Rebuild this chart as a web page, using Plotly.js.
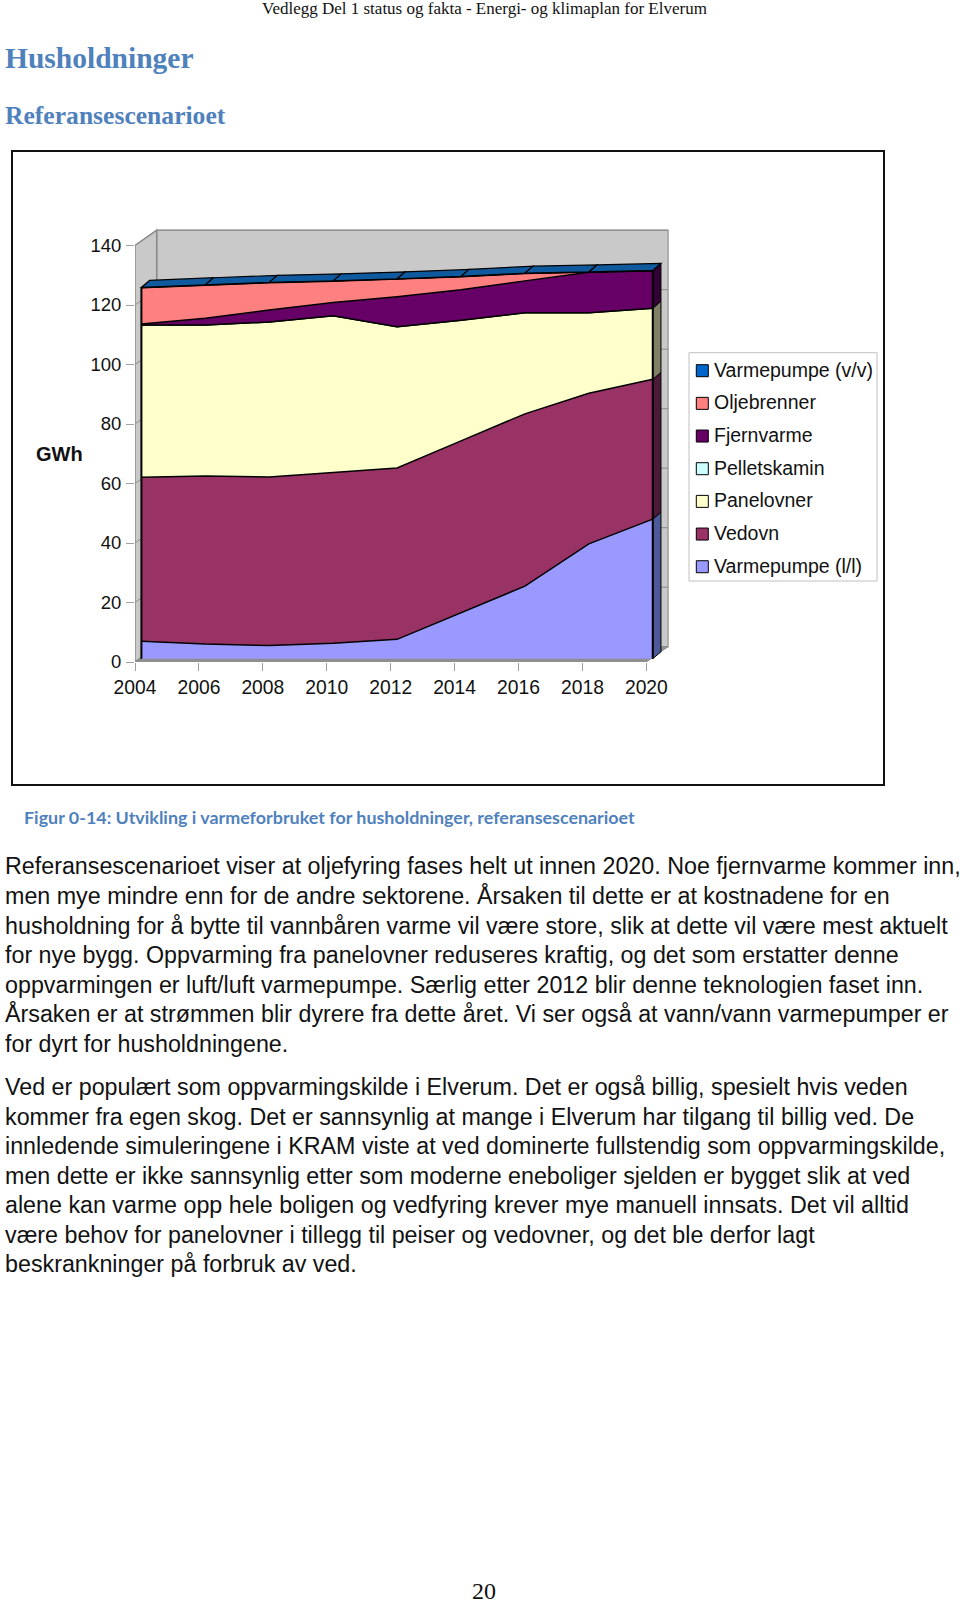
<!DOCTYPE html>
<html>
<head>
<meta charset="utf-8">
<script src="https://cdn.plot.ly/plotly-3.0.1.min.js"></script>
<style>
  body { margin: 0; background: #fff; width: 960px; height: 1602px; position: relative; overflow: hidden; }
  .t { position: absolute; white-space: nowrap; line-height: 1; }
  .body { left: 5px; font: 23.28px "Liberation Sans", sans-serif; color: #111; transform: translateY(-50%); }
  #box { position: absolute; left: 11px; top: 150px; width: 870px; height: 632px; border: 2px solid #111; }
  #chart { position: absolute; left: 0; top: 0; width: 960px; height: 800px; }
</style>
</head>
<body>
<div class="t" id="header" style="left:262px;top:-1px;font:17px 'Liberation Serif',serif;color:#111">Vedlegg Del 1 status og fakta - Energi- og klimaplan for Elverum</div>
<div class="t" style="left:5px;top:42px;font:bold 29.5px 'Liberation Serif',serif;color:#4f81bd">Husholdninger</div>
<div class="t" style="left:5px;top:101px;font:bold 25.6px 'Liberation Serif',serif;color:#4f81bd">Referansescenarioet</div>
<div id="box"></div>
<div id="chart"></div>
<div class="t" style="left:24px;top:806px;font:bold 17.9px Lato,sans-serif;color:#4f81bd">Figur 0-14: Utvikling i varmeforbruket for husholdninger, referansescenarioet</div>
<div id="text"></div>
<div class="t" style="left:472px;top:1578px;font:24px 'Liberation Serif',serif;color:#111">20</div>

<script>
let years = [2004, 2006, 2008, 2010, 2012, 2014, 2016, 2018, 2020];
let yTicks = [0, 20, 40, 60, 80, 100, 120, 140];

// stacked values in GWh
let varmepumpeLL = [5.9, 4.9, 4.4, 5.2, 6.5, 15.5, 24.4, 38.6, 46.9];
let vedovn = [55.1, 56.5, 56.7, 57.5, 57.6, 57.7, 57.9, 50.6, 47.0];
let panelovner = [51.2, 50.8, 52.1, 52.6, 47.5, 40.6, 34.0, 27.1, 23.9];
let pelletskamin = [0, 0, 0, 0, 0, 0, 0, 0, 0];
let fjernvarme = [0.3, 2.2, 4.0, 4.4, 10.1, 10.2, 10.7, 13.6, 12.6];
let oljebrenner = [12.2, 11.2, 9.2, 7.2, 5.9, 4.4, 2.5, 0, 0];
let varmepumpeVV = [0.1, 0.1, 0.1, 0.1, 0.1, 0.1, 0.1, 0.1, 0.1];

let names = ["Varmepumpe (l/l)", "Vedovn", "Panelovner", "Pelletskamin", "Fjernvarme", "Oljebrenner", "Varmepumpe (v/v)"];
let series = [varmepumpeLL, vedovn, panelovner, pelletskamin, fjernvarme, oljebrenner, varmepumpeVV];
let colors = ["#9999ff", "#993366", "#ffffcc", "#ccffff", "#660066", "#ff8080", "#0066cc"];
let sideColors = ["#4d5a99", "#4a1a38", "#808066", "#668080", "#330033", "#804040", "#0f5a9e"];

let textLines = [
  [866, "Referansescenarioet viser at oljefyring fases helt ut innen 2020. Noe fjernvarme kommer inn,"],
  [896, "men mye mindre enn for de andre sektorene. Årsaken til dette er at kostnadene for en"],
  [925.5, "husholdning for å bytte til vannbåren varme vil være store, slik at dette vil være mest aktuelt"],
  [955, "for nye bygg. Oppvarming fra panelovner reduseres kraftig, og det som erstatter denne"],
  [985, "oppvarmingen er luft/luft varmepumpe. Særlig etter 2012 blir denne teknologien faset inn."],
  [1014, "Årsaken er at strømmen blir dyrere fra dette året. Vi ser også at vann/vann varmepumper er"],
  [1044, "for dyrt for husholdningene."],
  [1087, "Ved er populært som oppvarmingskilde i Elverum. Det er også billig, spesielt hvis veden"],
  [1116.5, "kommer fra egen skog. Det er sannsynlig at mange i Elverum har tilgang til billig ved. De"],
  [1146, "innledende simuleringene i KRAM viste at ved dominerte fullstendig som oppvarmingskilde,"],
  [1176, "men dette er ikke sannsynlig etter som moderne eneboliger sjelden er bygget slik at ved"],
  [1205, "alene kan varme opp hele boligen og vedfyring krever mye manuell innsats. Det vil alltid"],
  [1235, "være behov for panelovner i tillegg til peiser og vedovner, og det ble derfor lagt"],
  [1264, "beskrankninger på forbruk av ved."]
];

let textDiv = document.getElementById("text");
textLines.forEach(function (l) {
  let d = document.createElement("div");
  d.className = "t body";
  d.style.top = l[0] + "px";
  d.textContent = l[1];
  textDiv.appendChild(d);
});

// plot area in page pixels
const areaLeft = 135, areaRight = 680, areaTop = 225, areaBottom = 662;
const pxPerYear = 31.96, pxPerGWh = 2.975;
const xMax = 2004 + (areaRight - areaLeft) / pxPerYear;
const yMax = (areaBottom - areaTop) / pxPerGWh;
const px = (p) => (p - areaLeft) / (areaRight - areaLeft);
const py = (p) => (areaBottom - p) / (areaBottom - areaTop);

let shapes = [];

function poly(points, fill, lineColor, lineWidth, xref, yref, layer) {
  let path = points.map((p, i) => (i == 0 ? "M" : "L") + p[0] + "," + p[1]).join(" ") + " Z";
  shapes.push({ type: "path", path: path, fillcolor: fill, line: { color: lineColor, width: lineWidth }, xref: xref, yref: yref, layer: layer });
}

// walls and floor
let wallDx = 21.7 / pxPerYear, wallDy = 15.3 / pxPerGWh;
poly([[2004, 0], [2004 + wallDx, wallDy], [2020 + wallDx, wallDy], [2020, 0]], "#8f8f8f", "#8f8f8f", 1, "x", "y", "below");
poly([[2004 + wallDx, wallDy], [2020 + wallDx, wallDy], [2020 + wallDx, 140 + wallDy], [2004 + wallDx, 140 + wallDy]], "#c9c9c9", "#a0a0a0", 1.5, "x", "y", "below");
poly([[2004, 0], [2004 + wallDx, wallDy], [2004 + wallDx, 140 + wallDy], [2004, 140]], "#c9c9c9", "#8c8c8c", 1.5, "x", "y", "below");
yTicks.forEach(function (t) {
  shapes.push({ type: "line", x0: 2004, y0: t, x1: 2004 + wallDx, y1: t + wallDy, xref: "x", yref: "y", layer: "below", line: { color: "#8c8c8c", width: 1 } });
  shapes.push({ type: "line", x0: 2004 + wallDx, y0: t + wallDy, x1: 2020 + wallDx, y1: t + wallDy, xref: "x", yref: "y", layer: "below", line: { color: "#8c8c8c", width: 1 } });
});

// running totals of the stack
let tops = [];
series.forEach(function (s, i) {
  tops.push(s.map((v, j) => v + (i > 0 ? tops[i - 1][j] : 0)));
});

// right side of the stack
let n = years.length - 1;
let sideDx = 8.2 / pxPerYear, sideDy = 7 / pxPerGWh;
series.forEach(function (s, i) {
  if (s[n] <= 0) return;
  let y0 = i > 0 ? tops[i - 1][n] : 0, y1 = tops[i][n];
  poly([[2020, y0], [2020, y1], [2020 + sideDx, y1 + sideDy], [2020 + sideDx, y0 + sideDy]], sideColors[i], "#000", 1, "x2", "y2", "above");
});

// top face, one piece per interval
let stackTop = tops[tops.length - 1];
for (let i = 0; i < n; i++) {
  poly([[years[i], stackTop[i]], [years[i + 1], stackTop[i + 1]], [years[i + 1] + sideDx, stackTop[i + 1] + sideDy], [years[i] + sideDx, stackTop[i] + sideDy]], "#0f5a9e", "#000", 1.2, "x2", "y2", "above");
}

// front edges
shapes.push({ type: "line", x0: 2004, y0: 0, x1: 2004, y1: stackTop[0], xref: "x2", yref: "y2", layer: "above", line: { color: "#000", width: 2 } });
shapes.push({ type: "line", x0: 2020, y0: 0, x1: 2020, y1: stackTop[n], xref: "x2", yref: "y2", layer: "above", line: { color: "#000", width: 2 } });

// legend box, drawn to keep the small swatches of the original
shapes.push({ type: "rect", xref: "paper", yref: "paper", x0: px(689), x1: px(877), y0: py(352.7), y1: py(581), fillcolor: "#fff", line: { color: "#c0c0c0", width: 1 }, layer: "above" });
let annotations = [];
for (let i = 0; i < names.length; i++) {
  let rowY = 370.7 + (names.length - 1 - i) * 32.67;
  shapes.push({ type: "rect", xref: "paper", yref: "paper", x0: px(696.3), x1: px(708.3), y0: py(rowY - 6), y1: py(rowY + 6), fillcolor: colors[i], line: { color: "#000", width: 1 }, layer: "above" });
  annotations.push({ text: names[i], xref: "paper", yref: "paper", x: px(714), y: py(rowY - 1), xanchor: "left", yanchor: "middle", showarrow: false, xshift: -2, font: { size: 19.5, color: "#111" } });
}
annotations.push({ text: "<b>GWh</b>", xref: "paper", yref: "paper", x: px(35.5), y: py(454), xanchor: "left", yanchor: "middle", showarrow: false, xshift: -2, font: { size: 20, color: "#111" } });

let traces = series.map(function (s, i) {
  return {
    x: years, y: s, name: names[i], type: "scatter", mode: "lines", stackgroup: "one",
    line: { color: "#000", width: 1.5, shape: "linear" }, fillcolor: colors[i],
    xaxis: "x2", yaxis: "y2", hoverinfo: "x+y+name"
  };
});
// keeps the tick axes alive, draws nothing
traces.unshift({ x: [2004], y: [0], type: "scatter", mode: "none", showlegend: false, hoverinfo: "skip" });

let offX = 6.4 / pxPerYear, offY = 3.3 / pxPerGWh;
let layout = {
  width: 960, height: 800,
  margin: { l: areaLeft, r: 960 - areaRight, t: areaTop, b: 800 - areaBottom, pad: 0 },
  paper_bgcolor: "rgba(0,0,0,0)", plot_bgcolor: "rgba(0,0,0,0)",
  font: { family: "Liberation Sans, Arial, sans-serif", color: "#111" },
  showlegend: false,
  xaxis: {
    range: [2004, xMax], tickmode: "array", tickvals: years, ticktext: years.map(String),
    ticks: "outside", ticklen: 8, tickcolor: "#a0a0a0", tickwidth: 1, showgrid: false, zeroline: false,
    showline: false, tickfont: { size: 19.3 }, tickangle: 0
  },
  yaxis: {
    range: [0, yMax], tickmode: "array", tickvals: yTicks,
    ticks: "outside", ticklen: 8, tickcolor: "#a0a0a0", tickwidth: 1, showgrid: false, zeroline: false,
    showline: false, tickfont: { size: 18.5 }, ticklabelstandoff: 1
  },
  xaxis2: { overlaying: "x", range: [2004 - offX, xMax - offX], visible: false },
  yaxis2: { overlaying: "y", range: [-offY, yMax - offY], visible: false },
  shapes: shapes,
  annotations: annotations
};

Plotly.newPlot("chart", traces, layout, { displayModeBar: false, responsive: false });
</script>
</body>
</html>
